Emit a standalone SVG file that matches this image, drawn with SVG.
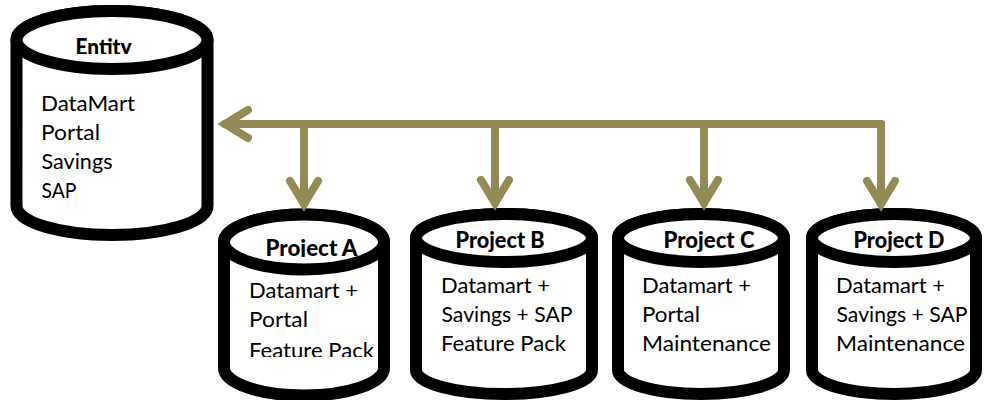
<svg xmlns="http://www.w3.org/2000/svg" width="987" height="400" viewBox="0 0 987 400">
<style>
.cyl{fill:#fff;stroke:#000;stroke-width:12;stroke-linejoin:round}
.title{font-family:"Lato","Liberation Sans",sans-serif;font-weight:900;font-size:23px;fill:#000}
.body{font-family:"Lato","Carlito","Liberation Sans",sans-serif;font-size:20.5px;fill:#000}
.conn{fill:none;stroke:#948A54;stroke-width:8;stroke-linecap:round}
</style>
<defs>
<marker id="arrow" markerUnits="userSpaceOnUse" markerWidth="40" markerHeight="50" viewBox="-30 -25 40 50" refX="0" refY="0" orient="auto">
<path d="M-23,-14 L0,0 L-23,14" fill="none" stroke="#948A54" stroke-width="8" stroke-linecap="round" stroke-linejoin="miter"/>
</marker>
<clipPath id="clipEntity"><rect x="60" y="20" width="110" height="34"/></clipPath>
<clipPath id="clipATitle"><rect x="250" y="225" width="125" height="32"/></clipPath>
<clipPath id="clipABody"><rect x="240" y="275" width="145" height="82"/></clipPath>
</defs>
<rect width="987" height="400" fill="#fff"/>
<g id="entity">
<path class="cyl" d="M16.5,40 A95.5,29 0 0 1 207.5,40 V206 A95.5,29 0 0 1 16.5,206 Z"/>
<path class="cyl" d="M16.5,40 A95.5,29 0 0 1 207.5,40 A95.5,29 0 0 1 16.5,40 Z"/>
<text class="title" x="75.5" y="55" textLength="56" lengthAdjust="spacingAndGlyphs" clip-path="url(#clipEntity)">Entity</text>
<text class="body" x="41" y="111" textLength="94" lengthAdjust="spacingAndGlyphs">DataMart</text>
<text class="body" x="41" y="140" textLength="59" lengthAdjust="spacingAndGlyphs">Portal</text>
<text class="body" x="41.5" y="169" textLength="71" lengthAdjust="spacingAndGlyphs">Savings</text>
<text class="body" x="41.5" y="198" textLength="35" lengthAdjust="spacingAndGlyphs">SAP</text>
</g>
<g id="project-a">
<path class="cyl" d="M224,242 A80,27.5 0 0 1 384,242 V368 A80,27.5 0 0 1 224,368 Z"/>
<path class="cyl" d="M224,242 A80,27.5 0 0 1 384,242 A80,27.5 0 0 1 224,242 Z"/>
<text class="title" x="265.5" y="256" textLength="92" lengthAdjust="spacingAndGlyphs" clip-path="url(#clipATitle)">Project A</text>
<text class="body" x="249" y="298" textLength="109" lengthAdjust="spacingAndGlyphs">Datamart +</text>
<text class="body" x="249" y="327" textLength="59" lengthAdjust="spacingAndGlyphs">Portal</text>
<text class="body" x="249" y="358" textLength="125" lengthAdjust="spacingAndGlyphs" clip-path="url(#clipABody)">Feature Pack</text>
</g>
<g id="project-b">
<path class="cyl" d="M416,238 A88,24 0 0 1 592,238 V370 A88,24 0 0 1 416,370 Z"/>
<path class="cyl" d="M416,238 A88,24 0 0 1 592,238 A88,24 0 0 1 416,238 Z"/>
<text class="title" x="455.5" y="248" textLength="89" lengthAdjust="spacingAndGlyphs">Project B</text>
<text class="body" x="441" y="293" textLength="109" lengthAdjust="spacingAndGlyphs">Datamart +</text>
<text class="body" x="441.5" y="322" textLength="131" lengthAdjust="spacingAndGlyphs">Savings + SAP</text>
<text class="body" x="441" y="351" textLength="125" lengthAdjust="spacingAndGlyphs">Feature Pack</text>
</g>
<g id="project-c">
<path class="cyl" d="M618,238 A83,24 0 0 1 784,238 V370 A83,24 0 0 1 618,370 Z"/>
<path class="cyl" d="M618,238 A83,24 0 0 1 784,238 A83,24 0 0 1 618,238 Z"/>
<text class="title" x="663.5" y="248" textLength="91" lengthAdjust="spacingAndGlyphs">Project C</text>
<text class="body" x="642" y="293" textLength="109" lengthAdjust="spacingAndGlyphs">Datamart +</text>
<text class="body" x="642" y="322" textLength="58" lengthAdjust="spacingAndGlyphs">Portal</text>
<text class="body" x="642" y="351" textLength="129" lengthAdjust="spacingAndGlyphs">Maintenance</text>
</g>
<g id="project-d">
<path class="cyl" d="M812,238 A82,24 0 0 1 976,238 V370 A82,24 0 0 1 812,370 Z"/>
<path class="cyl" d="M812,238 A82,24 0 0 1 976,238 A82,24 0 0 1 812,238 Z"/>
<text class="title" x="853.5" y="248" textLength="91" lengthAdjust="spacingAndGlyphs">Project D</text>
<text class="body" x="836" y="293" textLength="109" lengthAdjust="spacingAndGlyphs">Datamart +</text>
<text class="body" x="836.5" y="322" textLength="131" lengthAdjust="spacingAndGlyphs">Savings + SAP</text>
<text class="body" x="836" y="351" textLength="129" lengthAdjust="spacingAndGlyphs">Maintenance</text>
</g>
<g id="connectors">
<path class="conn" d="M881,124 H225" marker-end="url(#arrow)"/>
<path class="conn" d="M304,124 V204" marker-end="url(#arrow)"/>
<path class="conn" d="M495,124 V203" marker-end="url(#arrow)"/>
<path class="conn" d="M704,124 V203" marker-end="url(#arrow)"/>
<path class="conn" d="M881,124 V204" marker-end="url(#arrow)"/>
</g>
</svg>
